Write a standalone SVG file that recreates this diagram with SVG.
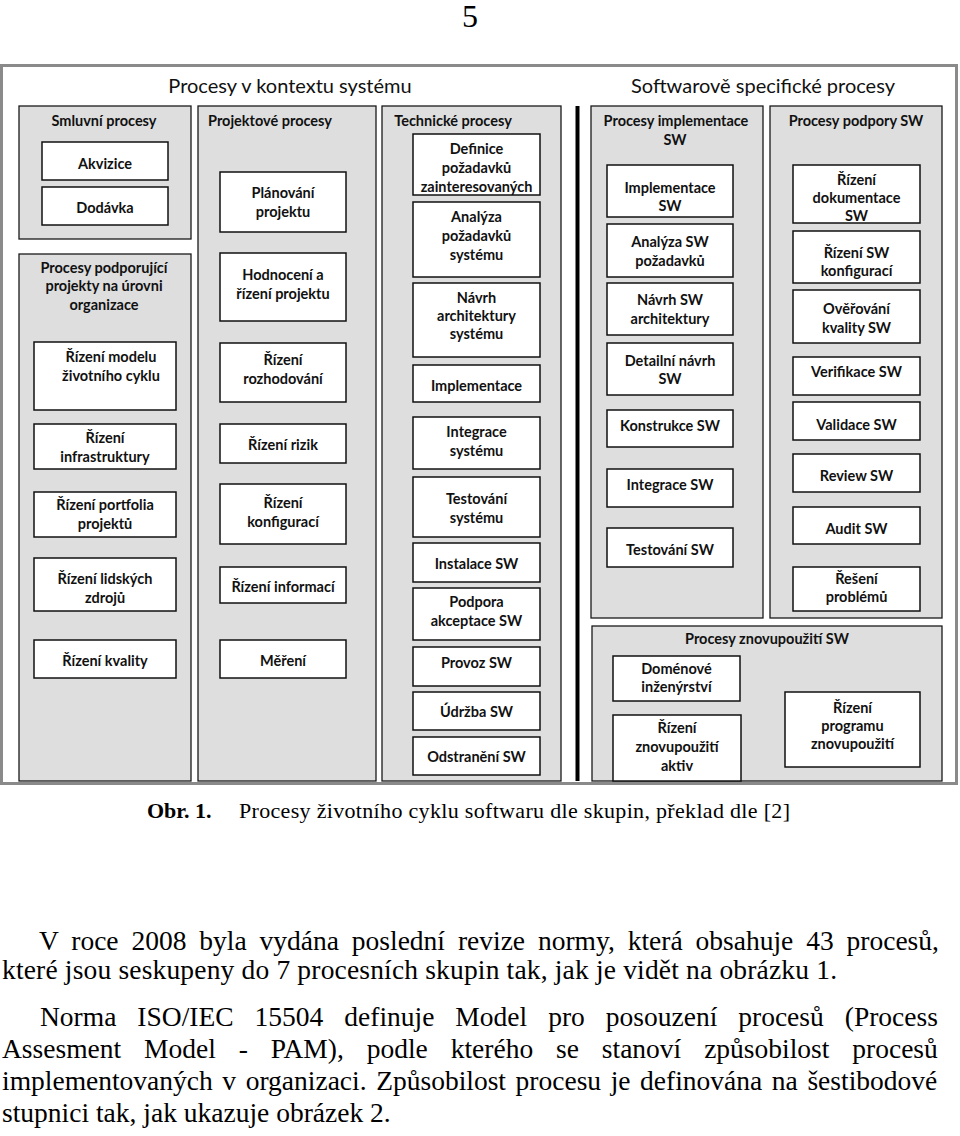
<svg xmlns="http://www.w3.org/2000/svg" width="960" height="1136" viewBox="0 0 960 1136">
<style>
.frame{fill:#ffffff;stroke:#8a8a8a;stroke-width:3}
.panel{fill:#dedede;stroke:#1a1a1a;stroke-width:1.3}
.box{fill:#ffffff;stroke:#111111;stroke-width:1.5}
.t{font-family:Lato,'Open Sans','Liberation Sans',sans-serif;font-weight:bold;font-size:14.5px;fill:#111;text-anchor:middle}
.h{font-family:Lato,'Open Sans','Liberation Sans',sans-serif;font-weight:bold;font-size:14.5px;fill:#111;text-anchor:middle}
.big{font-family:Lato,'Open Sans','Liberation Sans',sans-serif;font-size:20px;fill:#111;text-anchor:middle}
.body{font-family:'Liberation Serif','Times New Roman',serif;font-size:27.5px;fill:#000}
.cap{font-family:'Liberation Serif','Times New Roman',serif;font-size:22px;fill:#000}
</style>
<rect width="960" height="1136" fill="#ffffff"/>
<text x="470" y="27" text-anchor="middle" style="font-family:'Liberation Serif','Times New Roman',serif;font-size:32px;fill:#000">5</text>

<rect class="frame" x="1.5" y="65.5" width="955" height="718"/>
<text class="big" x="290" y="93">Procesy v kontextu systému</text>
<text class="big" x="763" y="93">Softwarově specifické procesy</text>

<g id="connectors">
<line x1="577.5" y1="106" x2="577.5" y2="781" stroke="#000" stroke-width="4"/>
</g>

<g id="panel-smluvni">
<rect class="panel" x="19" y="106" width="172" height="133"/>
<text class="h" x="104" y="126">Smluvní procesy</text>
</g>
<g id="node-akvizice"><rect class="box" x="42" y="142" width="126" height="38"/><text class="t" x="105" y="169">Akvizice</text></g>
<g id="node-dodavka"><rect class="box" x="42" y="187" width="126" height="38"/><text class="t" x="105" y="213">Dodávka</text></g>

<g id="panel-podporujici">
<rect class="panel" x="19" y="254" width="172" height="527"/>
<text class="h" x="104" y="273">Procesy podporující</text>
<text class="h" x="104" y="291">projekty na úrovni</text>
<text class="h" x="104" y="310">organizace</text>
</g>
<g id="node-model"><rect class="box" x="34" y="342" width="142" height="68"/><text class="t" x="111" y="362">Řízení modelu</text><text class="t" x="111" y="381">životního cyklu</text></g>
<g id="node-infra"><rect class="box" x="34" y="424" width="142" height="45"/><text class="t" x="105" y="443">Řízení</text><text class="t" x="105" y="462">infrastruktury</text></g>
<g id="node-portfolio"><rect class="box" x="34" y="492" width="142" height="45"/><text class="t" x="105" y="510">Řízení portfolia</text><text class="t" x="105" y="529">projektů</text></g>
<g id="node-lidske"><rect class="box" x="34" y="558" width="142" height="53"/><text class="t" x="105" y="584">Řízení lidských</text><text class="t" x="105" y="603">zdrojů</text></g>
<g id="node-kvalita"><rect class="box" x="34" y="640" width="142" height="38"/><text class="t" x="105" y="666">Řízení kvality</text></g>

<g id="panel-projektove">
<rect class="panel" x="198" y="106" width="178" height="675"/>
<text class="h" x="270" y="126">Projektové procesy</text>
</g>
<g id="node-planovani"><rect class="box" x="220" y="172" width="126" height="60"/><text class="t" x="283" y="198">Plánování</text><text class="t" x="283" y="217">projektu</text></g>
<g id="node-hodnoceni"><rect class="box" x="220" y="253" width="126" height="68"/><text class="t" x="283" y="280">Hodnocení a</text><text class="t" x="283" y="299">řízení projektu</text></g>
<g id="node-rozhodovani"><rect class="box" x="220" y="343" width="126" height="59"/><text class="t" x="283" y="365">Řízení</text><text class="t" x="283" y="384">rozhodování</text></g>
<g id="node-rizika"><rect class="box" x="220" y="424" width="126" height="39"/><text class="t" x="283" y="450">Řízení rizik</text></g>
<g id="node-konfigurace"><rect class="box" x="220" y="484" width="126" height="60"/><text class="t" x="283" y="508">Řízení</text><text class="t" x="283" y="527">konfigurací</text></g>
<g id="node-informace"><rect class="box" x="220" y="567" width="126" height="36"/><text class="t" x="283" y="592">Řízení informací</text></g>
<g id="node-mereni"><rect class="box" x="220" y="640" width="126" height="38"/><text class="t" x="283" y="666">Měření</text></g>

<g id="panel-technicke">
<rect class="panel" x="382" y="106" width="179" height="675"/>
<text class="h" x="453" y="126">Technické procesy</text>
</g>
<g id="node-definice"><rect class="box" x="413" y="134" width="127" height="61"/><text class="t" x="476.5" y="154">Definice</text><text class="t" x="476.5" y="173">požadavků</text><text class="t" x="476.5" y="192">zainteresovaných</text></g>
<g id="node-analyza"><rect class="box" x="413" y="202" width="127" height="75"/><text class="t" x="476.5" y="222">Analýza</text><text class="t" x="476.5" y="241">požadavků</text><text class="t" x="476.5" y="260">systému</text></g>
<g id="node-navrh"><rect class="box" x="413" y="283" width="127" height="74"/><text class="t" x="476.5" y="303">Návrh</text><text class="t" x="476.5" y="321">architektury</text><text class="t" x="476.5" y="339">systému</text></g>
<g id="node-implementace"><rect class="box" x="413" y="365" width="127" height="37"/><text class="t" x="476.5" y="391">Implementace</text></g>
<g id="node-integrace"><rect class="box" x="413" y="417" width="127" height="52"/><text class="t" x="476.5" y="437">Integrace</text><text class="t" x="476.5" y="456">systému</text></g>
<g id="node-testovani"><rect class="box" x="413" y="477" width="127" height="60"/><text class="t" x="476.5" y="504">Testování</text><text class="t" x="476.5" y="523">systému</text></g>
<g id="node-instalace"><rect class="box" x="413" y="543" width="127" height="39"/><text class="t" x="476.5" y="569">Instalace SW</text></g>
<g id="node-podpora"><rect class="box" x="413" y="588" width="127" height="52"/><text class="t" x="476.5" y="607">Podpora</text><text class="t" x="476.5" y="626">akceptace SW</text></g>
<g id="node-provoz"><rect class="box" x="413" y="647" width="127" height="39"/><text class="t" x="476.5" y="668">Provoz SW</text></g>
<g id="node-udrzba"><rect class="box" x="413" y="692" width="127" height="38"/><text class="t" x="476.5" y="717">Údržba SW</text></g>
<g id="node-odstraneni"><rect class="box" x="413" y="737" width="127" height="38"/><text class="t" x="476.5" y="762">Odstranění SW</text></g>

<g id="panel-implementace-sw">
<rect class="panel" x="591" y="106" width="172" height="512"/>
<text class="h" x="676" y="126">Procesy implementace</text>
<text class="h" x="675" y="145">SW</text>
</g>
<g id="node-impl-sw"><rect class="box" x="607" y="165" width="126" height="52"/><text class="t" x="670" y="193">Implementace</text><text class="t" x="670" y="211">SW</text></g>
<g id="node-analyza-sw"><rect class="box" x="607" y="224" width="126" height="53"/><text class="t" x="670" y="247">Analýza SW</text><text class="t" x="670" y="266">požadavků</text></g>
<g id="node-navrh-sw"><rect class="box" x="607" y="283" width="126" height="52"/><text class="t" x="670" y="305">Návrh SW</text><text class="t" x="670" y="324">architektury</text></g>
<g id="node-detailni"><rect class="box" x="607" y="343" width="126" height="52"/><text class="t" x="670" y="366">Detailní návrh</text><text class="t" x="670" y="384">SW</text></g>
<g id="node-konstrukce"><rect class="box" x="607" y="410" width="126" height="37"/><text class="t" x="670" y="431">Konstrukce SW</text></g>
<g id="node-integrace-sw"><rect class="box" x="607" y="469" width="126" height="38"/><text class="t" x="670" y="490">Integrace SW</text></g>
<g id="node-testovani-sw"><rect class="box" x="607" y="528" width="126" height="39"/><text class="t" x="670" y="555">Testování SW</text></g>

<g id="panel-podpory-sw">
<rect class="panel" x="770" y="106" width="172" height="512"/>
<text class="h" x="856" y="126">Procesy podpory SW</text>
</g>
<g id="node-dokumentace"><rect class="box" x="793" y="165" width="127" height="58"/><text class="t" x="856.5" y="185">Řízení</text><text class="t" x="856.5" y="203">dokumentace</text><text class="t" x="856.5" y="221">SW</text></g>
<g id="node-konfigurace-sw"><rect class="box" x="793" y="231" width="127" height="52"/><text class="t" x="856.5" y="258">Řízení SW</text><text class="t" x="856.5" y="276">konfigurací</text></g>
<g id="node-overovani"><rect class="box" x="793" y="290" width="127" height="53"/><text class="t" x="856.5" y="314">Ověřování</text><text class="t" x="856.5" y="333">kvality SW</text></g>
<g id="node-verifikace"><rect class="box" x="793" y="357" width="127" height="38"/><text class="t" x="856.5" y="377">Verifikace SW</text></g>
<g id="node-validace"><rect class="box" x="793" y="402" width="127" height="38"/><text class="t" x="856.5" y="430">Validace SW</text></g>
<g id="node-review"><rect class="box" x="793" y="454" width="127" height="38"/><text class="t" x="856.5" y="481">Review SW</text></g>
<g id="node-audit"><rect class="box" x="793" y="507" width="127" height="37"/><text class="t" x="856.5" y="534">Audit SW</text></g>
<g id="node-reseni"><rect class="box" x="793" y="567" width="127" height="44"/><text class="t" x="856.5" y="584">Řešení</text><text class="t" x="856.5" y="602">problémů</text></g>

<g id="panel-znovupouziti">
<rect class="panel" x="592" y="626" width="350" height="155"/>
<text class="h" x="767" y="644">Procesy znovupoužití SW</text>
</g>
<g id="node-domenove"><rect class="box" x="613" y="656" width="127" height="45"/><text class="t" x="676.5" y="674">Doménové</text><text class="t" x="676.5" y="692">inženýrství</text></g>
<g id="node-aktiva"><rect class="box" x="613" y="715" width="128" height="66"/><text class="t" x="677" y="733">Řízení</text><text class="t" x="677" y="752">znovupoužití</text><text class="t" x="677" y="771">aktiv</text></g>
<g id="node-program"><rect class="box" x="785" y="692" width="135" height="75"/><text class="t" x="852.5" y="713">Řízení</text><text class="t" x="852.5" y="731">programu</text><text class="t" x="852.5" y="749">znovupoužití</text></g>

<rect x="1.5" y="65.5" width="955" height="718" fill="none" stroke="#8a8a8a" stroke-width="3"/>

<text class="cap" x="147" y="818"><tspan font-weight="bold">Obr. 1.</tspan></text>
<text class="cap" x="239" y="818" textLength="551" lengthAdjust="spacing">Procesy životního cyklu softwaru dle skupin, překlad dle [2]</text>

<g id="body-text">
<text class="body" x="39" y="950" word-spacing="6.0">V roce 2008 byla vydána poslední revize normy, která obsahuje 43 procesů,</text>
<text class="body" x="2" y="979" textLength="835" lengthAdjust="spacing">které jsou seskupeny do 7 procesních skupin tak, jak je vidět na obrázku 1.</text>
<text class="body" x="40" y="1026" word-spacing="14.1">Norma ISO/IEC 15504 definuje Model pro posouzení procesů (Process</text>
<text class="body" x="2" y="1058" word-spacing="16.0">Assesment Model - PAM), podle kterého se stanoví způsobilost procesů</text>
<text class="body" x="2" y="1090" word-spacing="2.7">implementovaných v organizaci. Způsobilost procesu je definována na šestibodové</text>
<text class="body" x="2" y="1122">stupnici tak, jak ukazuje obrázek 2.</text>
</g>
</svg>
